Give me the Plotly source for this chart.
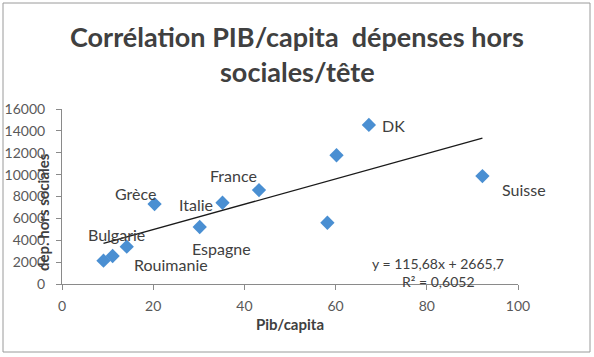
import plotly.graph_objects as go

# Data
countries = ["Bulgarie", "Rouimanie", "", "Grèce", "Espagne", "Italie", "France", "", "", "DK", "Suisse"]
pib_capita = [9.1, 11.1, 14.2, 20.3, 30.2, 35.2, 43.2, 58.2, 60.2, 67.3, 92.2]
dep_hors_sociales = [2130, 2560, 3410, 7310, 5210, 7430, 8590, 5600, 11770, 14540, 9870]

trend_slope = 115.68
trend_intercept = 2665.7
r_squared = 0.6052

x_ticks = [0, 20, 40, 60, 80, 100]
y_ticks = [0, 2000, 4000, 6000, 8000, 10000, 12000, 14000, 16000]

title_lines = ["Corrélation PIB/capita  dépenses hors", "sociales/tête"]

# label offsets in pixels (dx, dy up)
label_offsets = {
    "Bulgarie": (13, 26),
    "Rouimanie": (58, -8),
    "Grèce": (-19, 11),
    "Espagne": (22, -21),
    "Italie": (-27, -2),
    "France": (-25, 15),
    "DK": (25, -1),
    "Suisse": (42, -13),
}

FONT = "Lato, 'Open Sans', sans-serif"

# plot area in pixels
L, R, T, B = 62, 518, 109, 284
W, H = 594, 357
pw, ph = R - L, B - T


def px_x(p):
    return (p - L) / pw


def px_y(p):
    return (B - p) / ph


fig = go.Figure()

fig.add_trace(go.Scatter(
    x=pib_capita, y=dep_hors_sociales, mode="markers",
    marker=dict(symbol="diamond", size=11, color="#4A8FD2"),
    showlegend=False, hoverinfo="x+y",
))

x_min, x_max = min(pib_capita), max(pib_capita)
fig.add_trace(go.Scatter(
    x=[x_min, x_max],
    y=[trend_slope * x_min + trend_intercept, trend_slope * x_max + trend_intercept],
    mode="lines", line=dict(color="#1a1a1a", width=1.3),
    showlegend=False, hoverinfo="skip",
))

annotations = []
for name, x, y in zip(countries, pib_capita, dep_hors_sociales):
    if not name:
        continue
    dx, dy = label_offsets[name]
    annotations.append(dict(
        x=x, y=y, xref="x", yref="y", text=name, showarrow=False,
        xanchor="center", yanchor="middle",
        xshift=dx, yshift=dy, font=dict(family=FONT, size=16, color="#404040"),
    ))

eq_text = "y = {}x + {}".format(str(trend_slope).replace(".", ","), str(trend_intercept).replace(".", ","))
r2_text = "R² = {}".format(str(r_squared).replace(".", ","))
annotations.append(dict(x=px_x(438), y=px_y(263), xref="paper", yref="paper", text=eq_text,
                        xanchor="center", yanchor="middle",
                        showarrow=False, font=dict(family=FONT, size=14, color="#404040")))
annotations.append(dict(x=px_x(438), y=px_y(281), xref="paper", yref="paper", text=r2_text,
                        xanchor="center", yanchor="middle",
                        showarrow=False, font=dict(family=FONT, size=14, color="#404040")))

# y axis title (overlapping tick labels like the original)
annotations.append(dict(x=px_x(43), y=px_y(212), xref="paper", yref="paper", text="<b>dep. hors sociales</b>",
                        xanchor="center", yanchor="middle",
                        textangle=-90, showarrow=False, font=dict(family=FONT, size=15, color="#404040")))

# title lines
for txt, cy in zip(title_lines, [37, 72]):
    annotations.append(dict(x=px_x(297), y=px_y(cy), xref="paper", yref="paper",
                            text="<b>" + txt.replace("  ", "&nbsp; ") + "</b>",
                            showarrow=False, xanchor="center", yanchor="middle",
                            font=dict(family=FONT, size=27, color="#404040")))

fig.update_layout(
    width=W, height=H,
    margin=dict(l=L, r=W - R, t=T, b=H - B, autoexpand=False),
    paper_bgcolor="white", plot_bgcolor="white",
    font=dict(family=FONT, size=14, color="#595959"),
    annotations=annotations,
    shapes=[dict(type="rect", xref="paper", yref="paper",
                 x0=px_x(3), x1=px_x(590), y0=px_y(352), y1=px_y(3),
                 line=dict(color="#9a9a9a", width=1), fillcolor="rgba(0,0,0,0)", layer="below")],
)

fig.update_xaxes(
    range=[0, 100], tickvals=x_ticks, showgrid=False, zeroline=False,
    showline=True, linecolor="#8a8a8a", linewidth=1,
    ticks="outside", ticklen=5, tickcolor="#8a8a8a", ticklabelstandoff=4,
    title=dict(text="<b>Pib/capita</b>", font=dict(family=FONT, size=15, color="#404040"), standoff=6),
    tickfont=dict(family=FONT, size=14, color="#595959"),
)
fig.update_yaxes(
    range=[0, 16000], tickvals=y_ticks, tickformat="d", showgrid=False, zeroline=False,
    showline=True, linecolor="#8a8a8a", linewidth=1,
    ticks="outside", ticklen=5, tickcolor="#8a8a8a", ticklabelstandoff=8,
    tickfont=dict(family=FONT, size=14, color="#595959"),
)

fig.write_html("out.html", config={"displayModeBar": False},
               post_script="document.body.style.margin='0';")
